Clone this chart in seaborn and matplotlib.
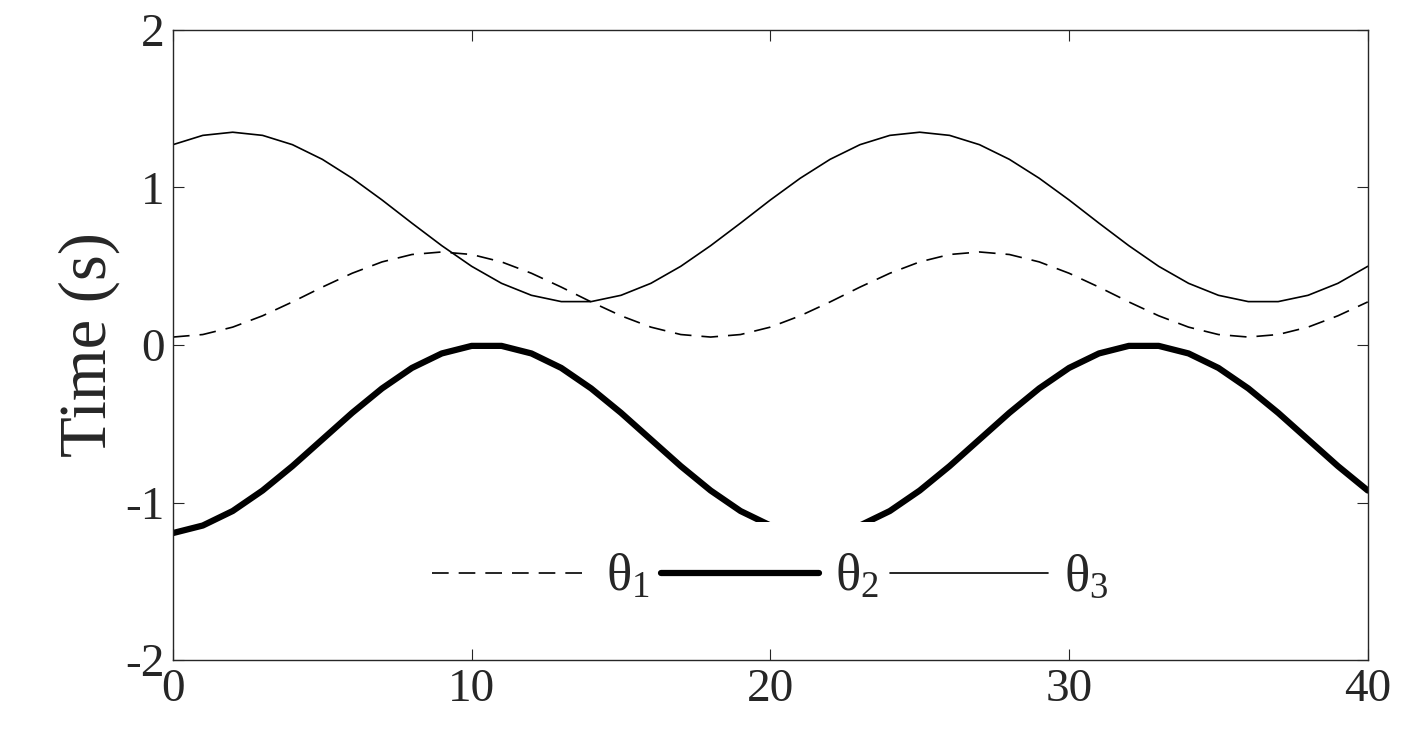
import numpy as np
import pandas as pd
import matplotlib
matplotlib.use("Agg")
import matplotlib.pyplot as plt
import seaborn as sns

sns.set_style("ticks")
plt.rcParams['font.family'] = ['Liberation Serif', 'DejaVu Serif']
plt.rcParams['mathtext.fontset'] = 'custom'
plt.rcParams['mathtext.rm'] = 'Liberation Serif'
plt.rcParams['mathtext.it'] = 'Liberation Serif'
plt.rcParams['axes.unicode_minus'] = False

x = list(range(41))
theta1 = [.05, .066, .113, .185, .273, .367, .455, .527, .574, .59,
          .574, .527, .455, .367, .273, .185, .113, .066, .05, .066,
          .113, .185, .273, .367, .455, .527, .574, .59, .574, .527,
          .455, .367, .273, .185, .113, .066, .05, .066, .113, .185, .273]
theta2 = [-1.194, -1.146, -1.054, -0.924, -0.769, -0.600, -0.431, -0.276, -0.146, -0.054,
          -0.006, -0.006, -0.054, -0.146, -0.276, -0.431, -0.600, -0.769, -0.924, -1.054,
          -1.146, -1.194, -1.194, -1.146, -1.054, -0.924, -0.769, -0.600, -0.431, -0.276,
          -0.146, -0.054, -0.006, -0.006, -0.054, -0.146, -0.276, -0.431, -0.600, -0.769, -0.924]
theta3 = [1.271, 1.330, 1.35, 1.33, 1.271, 1.178, 1.058, .920, .773, .630,
          .499, .391, .315, .275, .275, .315, .391, .499, .630, .773,
          .920, 1.058, 1.178, 1.271, 1.330, 1.35, 1.33, 1.271, 1.178, 1.058,
          .920, .773, .630, .499, .391, .315, .275, .275, .315, .391, .499]

fig = plt.figure(figsize=(14.13, 7.45), dpi=100)
ax = fig.add_axes([0.1224, 0.114, 0.8456, 0.846])

sns.lineplot(x=x, y=theta1, ax=ax, color='black', lw=1.2, linestyle=(0, (10, 6)),
             label=r'$\mathrm{\theta}_{1}$')
sns.lineplot(x=x, y=theta2, ax=ax, color='black', lw=4.5, label=r'$\mathrm{\theta}_{2}$')
sns.lineplot(x=x, y=theta3, ax=ax, color='black', lw=1.2, label=r'$\mathrm{\theta}_{3}$')

ax.set_xlim(0, 40)
ax.set_ylim(-2, 2)
ax.set_xticks([0, 10, 20, 30, 40])
ax.set_yticks([-2, -1, 0, 1, 2])
ax.tick_params(direction='in', length=8, top=True, right=True, labelsize=34, pad=6)
ax.set_ylabel('Time (s)', fontsize=48, labelpad=4)
for s in ax.spines.values():
    s.set_linewidth(1.0)

leg = ax.legend(loc='lower center', bbox_to_anchor=(0.5, 0.0), ncol=3, fontsize=38,
                frameon=True, facecolor='white', edgecolor='none', framealpha=1,
                handlelength=3.0, columnspacing=0.2, handletextpad=0.3, borderpad=0.6)
leg.set_zorder(5)

fig.savefig('out.png', dpi=100)
